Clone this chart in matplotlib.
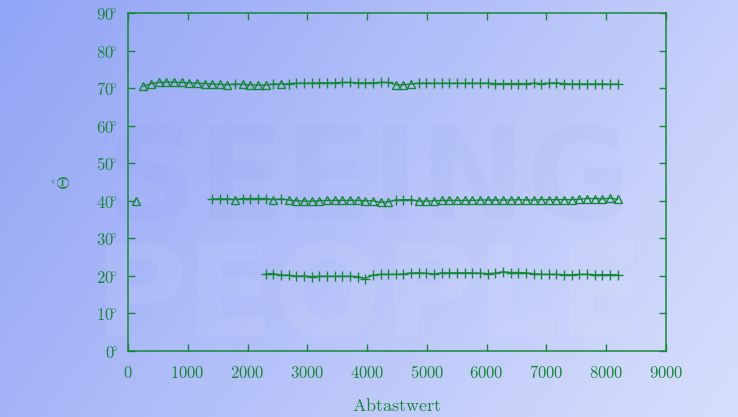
import numpy as np
import matplotlib
matplotlib.use("Agg")
import matplotlib.pyplot as plt

plt.rcParams['mathtext.fontset'] = 'cm'

# Track 1 (around 70 deg): sample positions, marker type (T = triangle, P = plus), angle
top_x = np.arange(256, 8193, 128)
top_marks = "TTTTTTTTTTTT" + "P" + "TTTT" + "P" + "T" + "PPPPPPPPPPPPPP" + "TTT" + "PPPPPPPPPPPPPPPPPPPPPPPPPPP"
top_y = [70.5, 71.2, 71.5, 71.6, 71.6, 71.5, 71.4, 71.3, 71.2, 71.1, 71.0, 70.9,
         71.1,
         71.0, 70.9, 70.8, 70.8,
         71.1,
         71.1,
         71.2, 71.3, 71.3, 71.3, 71.4, 71.4, 71.4, 71.5, 71.5, 71.4, 71.4, 71.4, 71.5, 71.5,
         70.9, 70.9, 71.1,
         71.3, 71.3, 71.3, 71.3, 71.3, 71.3, 71.3, 71.3, 71.3, 71.3, 71.2, 71.2, 71.2, 71.2,
         71.2, 71.3, 71.2, 71.3, 71.4, 71.2, 71.1, 71.1, 71.1, 71.1, 71.1, 71.0, 71.1]

# Track 2 (around 40 deg), plus one isolated sample at the start
lone_x = [128]
lone_y = [40.0]
mid_x = np.arange(1408, 8193, 128)
mid_marks = "PPP" + "T" + "PPPP" + "T" + "P" + "TTTTTTTTTTTTTT" + "PPP" + "TTTTTTTTTTTTTTTTTTTTTTTTTTT"
mid_y = [40.5, 40.5, 40.5,
         40.3,
         40.6, 40.6, 40.6, 40.6,
         40.3,
         40.5,
         40.2, 40.0, 39.9, 39.9, 40.0, 40.1, 40.1, 40.1, 40.1, 40.1, 40.0, 40.0, 39.6, 39.7,
         40.2, 40.3, 40.3,
         39.9, 39.9, 40.0, 40.1, 40.1, 40.1, 40.1, 40.1, 40.2, 40.2, 40.2, 40.2, 40.2, 40.3,
         40.2, 40.2, 40.3, 40.3, 40.3, 40.3, 40.3, 40.4, 40.6, 40.6, 40.5, 40.7, 40.4]

# Track 3 (around 20 deg), all plus markers
low_x = np.arange(2304, 8193, 128)
low_y = [20.6, 20.6, 20.2, 20.2, 19.9, 20.0, 19.8, 19.9, 19.9, 19.9,
         19.9, 19.9, 19.8, 19.3, 20.2, 20.4, 20.4, 20.4, 20.5, 20.8,
         20.8, 20.7, 20.5, 20.8, 20.8, 20.8, 20.8, 20.8, 20.7, 20.6,
         20.7, 21.1, 20.9, 20.9, 20.8, 20.6, 20.4, 20.4, 20.4, 20.3,
         20.3, 20.4, 20.4, 20.3, 20.3, 20.3, 20.3]

x_ticks = [0, 1000, 2000, 3000, 4000, 5000, 6000, 7000, 8000, 9000]
y_ticks = [0, 10, 20, 30, 40, 50, 60, 70, 80, 90]

green = '#17883a'

fig = plt.figure(figsize=(7.38, 4.17), dpi=100)

# background gradient
bg = fig.add_axes([0, 0, 1, 1], zorder=0)
gx = np.linspace(0, 1, 300)[None, :]
gy = np.linspace(0, 1, 170)[:, None]
t = np.clip(0.72 * gx + 0.28 * gy, 0, 1)
c0 = np.array([146, 164, 246]) / 255
c1 = np.array([216, 223, 252]) / 255
img = c0 + (c1 - c0) * t[..., None]
bg.imshow(img, aspect='auto', extent=[0, 1, 0, 1], interpolation='bilinear')
bg.text(0.5, 0.56, 'SEEING', fontsize=92, fontweight='bold', color='#6d80e0',
        alpha=0.045, ha='center', va='center', transform=bg.transAxes)
bg.text(0.5, 0.28, 'PEOPLE', fontsize=92, fontweight='bold', color='#ffffff',
        alpha=0.06, ha='center', va='center', transform=bg.transAxes)
bg.axis('off')

ax = fig.add_axes([128 / 738, 66 / 417, 538 / 738, 338 / 417], zorder=1)
ax.patch.set_alpha(0)


def draw_track(xs, ys, marks):
    xs = np.asarray(xs)
    ys = np.asarray(ys)
    ax.plot(xs, ys, color=green, lw=1.0)
    m = np.array(list(marks))
    ax.plot(xs[m == 'T'], ys[m == 'T'], ls='none', marker='^', ms=5.6,
            mfc='none', mec=green, mew=1.0)
    ax.plot(xs[m == 'P'], ys[m == 'P'], ls='none', marker='+', ms=7,
            mec=green, mew=1.0)


draw_track(top_x, top_y, top_marks)
draw_track(lone_x, lone_y, "T")
draw_track(mid_x, mid_y, mid_marks)
draw_track(low_x, low_y, "P" * len(low_y))

ax.set_xlim(0, 9000)
ax.set_ylim(0, 90)
ax.set_xticks(x_ticks)
ax.set_xticklabels([r'$%d$' % v for v in x_ticks])
ax.set_yticks(y_ticks)
ax.set_yticklabels([r'$%d\!^{\circ}$' % v for v in y_ticks])
ax.tick_params(direction='in', length=5, width=1.0, color=green, labelcolor=green,
               labelsize=12, top=True, right=True)
ax.tick_params(axis='x', pad=9)
ax.tick_params(axis='y', pad=7)
for s in ax.spines.values():
    s.set_color(green)
    s.set_linewidth(1.1)

ax.set_xlabel(r'$\mathrm{Abtastwert}$', color=green, fontsize=13, labelpad=11)
ax.set_ylabel(r'$\hat{\Theta}$', color=green, fontsize=13, labelpad=15)

fig.savefig('out.png', dpi=100)
